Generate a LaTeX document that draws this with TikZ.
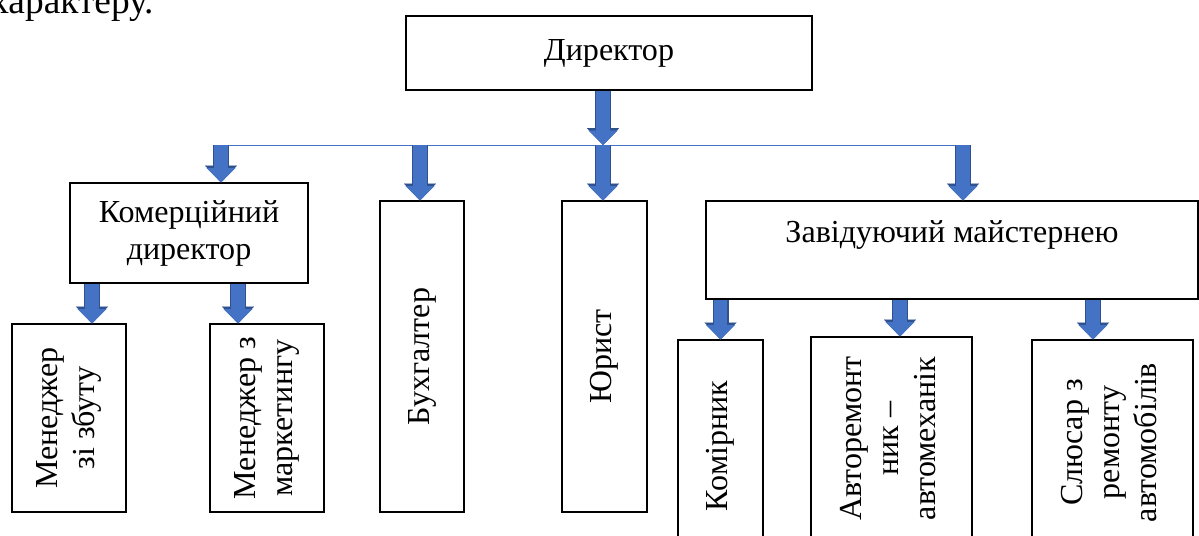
\documentclass[tikz,border=0pt]{standalone}
\usepackage{fontspec}
\setmainfont{Liberation Serif}
\usetikzlibrary{arrows.meta,positioning}
\definecolor{arrblue}{HTML}{4472C4}
\definecolor{arrdark}{HTML}{2F528F}
\newcommand{\vlab}[1]{\rotatebox{90}{\begin{tabular}{@{}c@{}}#1\end{tabular}}}

\begin{document}
\begin{tikzpicture}[
    font=\fontsize{22.8}{26.3}\selectfont,
    box/.style={rectangle, draw=black, line width=0.8pt, fill=white, inner sep=0pt, align=center},
    blockarr/.style={preaction={draw=arrdark, line width=0.4cm, -{Triangle[length=0.42cm, width=0.8cm, line width=0.01pt]}},
                     draw=arrblue, line width=0.34cm, -{Triangle[length=0.36cm, width=0.72cm, line width=0.01pt]}},
    bus/.style={draw=arrblue, line width=0.7pt}
]
    \useasboundingbox (0,0) rectangle (29.975,-13.4);

    % tail of the preceding text line
    \node[anchor=base west, inner sep=0pt, font=\fontsize{26.6}{30}\selectfont] (prev) at (-0.25,-0.33) {характеру.};

    % top level
    \node[box, minimum width=10.15cm, minimum height=1.85cm] (dir) at (15.225,-1.325) {Директор};

    % second level
    \node[box, minimum width=5.95cm, minimum height=2.5cm] (kom) at (4.725,-5.825) {Комерційний\\директор};
    \node[box, minimum width=2.1cm, minimum height=7.775cm] (buh) at (10.55,-8.9125) {\vlab{Бухгалтер}};
    \node[box, minimum width=2.125cm, minimum height=7.775cm] (jur) at (15.1125,-8.9125) {\vlab{Юрист}};
    \node[box, minimum width=12.3cm, minimum height=2.45cm] (zav) at (23.8,-6.25) {Завідуючий майстернею\\~};

    % third level
    \node[box, minimum width=2.85cm, minimum height=4.7cm] (men1) at (1.725,-10.45) {\vlab{Менеджер\\зі збуту}};
    \node[box, minimum width=2.85cm, minimum height=4.7cm] (men2) at (6.675,-10.45) {\vlab{Менеджер з\\маркетингу}};
    \node[box, minimum width=2.125cm, minimum height=5.3cm] (kmr) at (18.0125,-11.15) {\vlab{Комірник}};
    \node[box, minimum width=4.025cm, minimum height=5.075cm] (avt) at (22.2875,-10.9625) {\vlab{Авторемонт\\ник --\\автомеханік}};
    \node[box, minimum width=4.025cm, minimum height=5.125cm] (sl) at (27.8125,-11.0625) {\vlab{Слюсар з\\ремонту\\автомобілів}};

    % distribution line
    \coordinate (b1) at (5.525,-3.625);
    \coordinate (b2) at (10.5,-3.625);
    \coordinate (b3) at (15.075,-3.625);
    \coordinate (b4) at (24.075,-3.625);
    \draw[bus] (b1) -- (b4);

    \draw[blockarr] (b3 |- dir.south) -- (b3);
    \draw[blockarr] (b1) -- (b1 |- kom.north);
    \draw[blockarr] (b2) -- (b2 |- buh.north);
    \draw[blockarr] (b3) -- (b3 |- jur.north);
    \draw[blockarr] (b4) -- (b4 |- zav.north);

    \draw[blockarr] ([xshift=-2.425cm]kom.south) -- ([xshift=-2.425cm]kom.south |- men1.north);
    \draw[blockarr] ([xshift=1.225cm]kom.south) -- ([xshift=1.225cm]kom.south |- men2.north);

    \draw[blockarr] (kmr.north |- zav.south) -- (kmr.north);
    \draw[blockarr] ([xshift=0.2125cm]avt.north |- zav.south) -- ([xshift=0.2125cm]avt.north);
    \draw[blockarr] ([xshift=-0.4875cm]sl.north |- zav.south) -- ([xshift=-0.4875cm]sl.north);
\end{tikzpicture}
\end{document}
